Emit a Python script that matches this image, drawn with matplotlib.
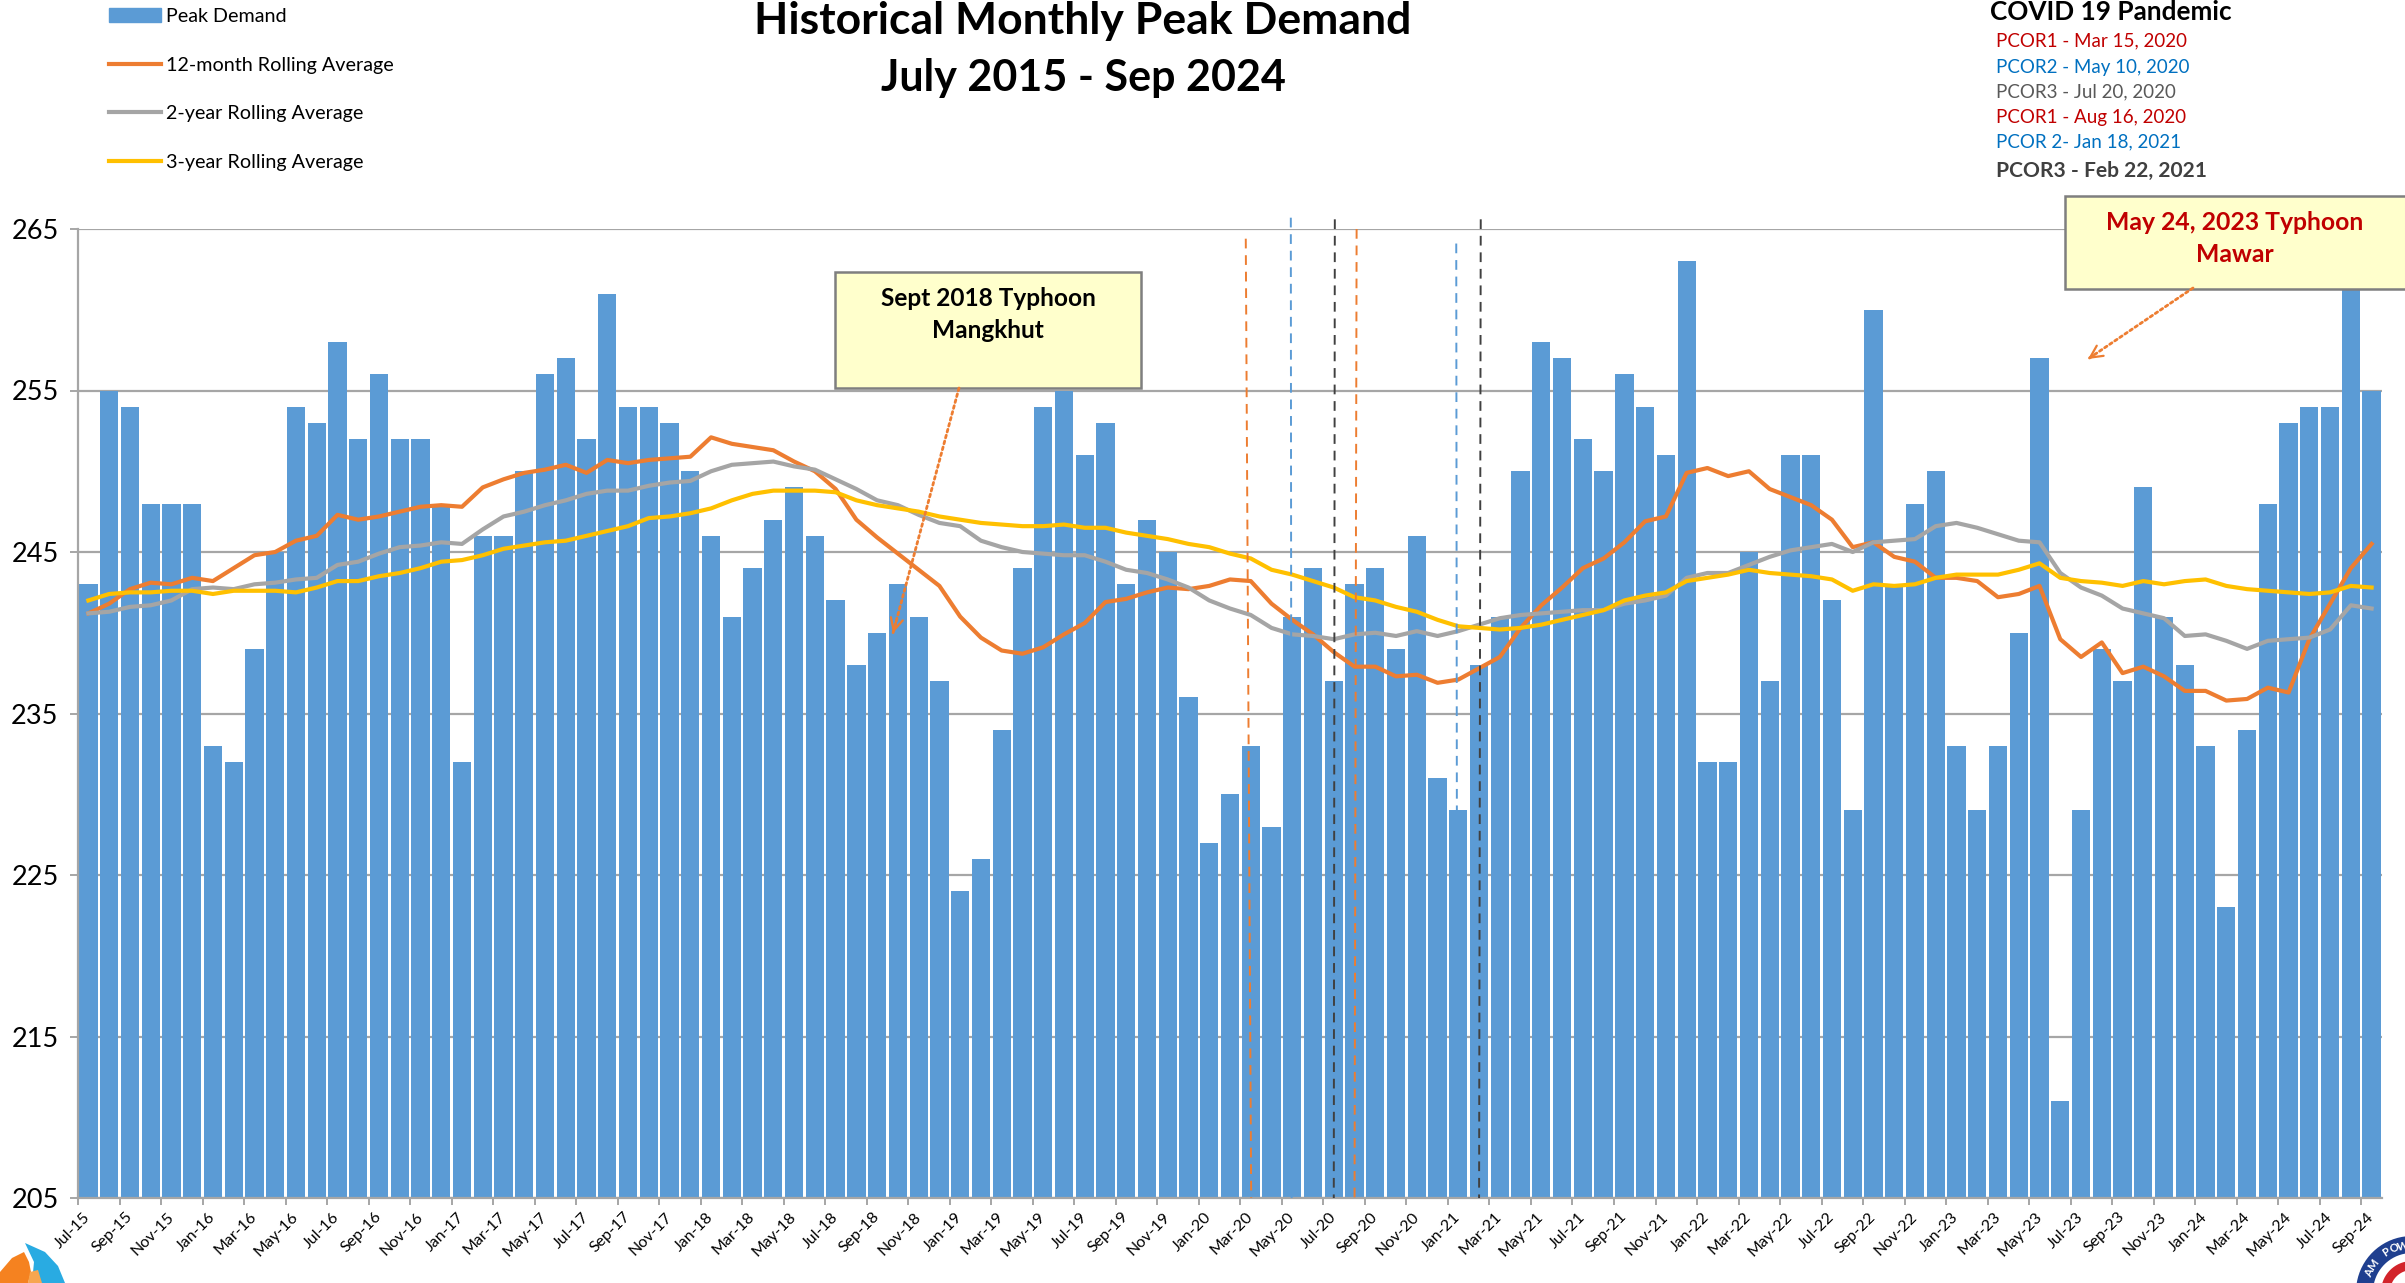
import numpy as np
import matplotlib
matplotlib.use("Agg")
import matplotlib.pyplot as plt
from matplotlib.patches import Rectangle, Polygon, FancyArrowPatch, Patch
from matplotlib.lines import Line2D

W, H = 2405, 1283
plt.rcParams['font.family'] = ['Lato', 'DejaVu Sans']

# data
years = [15, 16, 17, 18, 19, 20, 21, 22, 23, 24]
mon = ['Jan', 'Feb', 'Mar', 'Apr', 'May', 'Jun', 'Jul', 'Aug', 'Sep', 'Oct', 'Nov', 'Dec']
months = [m + '-' + str(y) for y in years for m in mon][6:-3]

peak = [243, 255, 254, 248, 248, 248,
        233, 232, 239, 245, 254, 253, 258, 252, 256, 252, 252, 248,
        232, 246, 246, 250, 256, 257, 252, 261, 254, 254, 253, 250,
        246, 241, 244, 247, 249, 246, 242, 238, 240, 243, 241, 237,
        224, 226, 234, 244, 254, 255, 251, 253, 243, 247, 245, 236,
        227, 230, 233, 228, 241, 244, 237, 243, 244, 239, 246, 231,
        229, 238, 241, 250, 258, 257, 252, 250, 256, 254, 251, 263,
        232, 232, 245, 237, 251, 251, 242, 229, 260, 243, 248, 250,
        233, 229, 233, 240, 257, 211, 229, 239, 237, 249, 241, 238,
        233, 223, 234, 248, 253, 254, 254, 263, 255]

avg_12m = [241.2, 241.8, 242.7, 243.1, 243.0, 243.4, 243.2, 244.0, 244.8, 245.0,
           245.7, 246.0, 247.3, 247.0, 247.2, 247.5, 247.8, 247.9, 247.8, 249.0,
           249.5, 249.9, 250.1, 250.4, 249.9, 250.7, 250.5, 250.7, 250.8, 250.9,
           252.1, 251.7, 251.5, 251.3, 250.6, 250.0, 248.9, 247.0, 245.9, 244.9,
           243.9, 242.9, 241.0, 239.7, 238.9, 238.7, 239.1, 239.9, 240.6, 241.9,
           242.1, 242.5, 242.8, 242.7, 242.9, 243.3, 243.2, 241.8, 240.8, 239.9,
           238.8, 237.9, 237.9, 237.3, 237.4, 236.9, 237.1, 237.8, 238.5, 240.3,
           241.7, 242.8, 244.0, 244.6, 245.6, 246.9, 247.2, 249.9, 250.2, 249.7,
           250.0, 248.9, 248.4, 247.9, 247.0, 245.3, 245.6, 244.7, 244.4, 243.4,
           243.4, 243.2, 242.2, 242.4, 242.9, 239.6, 238.5, 239.4, 237.5, 237.9,
           237.3, 236.4, 236.4, 235.8, 235.9, 236.6, 236.3, 239.6, 241.8, 244.0, 245.5]

avg_2y = [241.2, 241.3, 241.6, 241.7, 242.0, 242.7, 242.8, 242.7, 243.0, 243.1,
          243.3, 243.4, 244.2, 244.4, 244.9, 245.3, 245.4, 245.6, 245.5, 246.4,
          247.2, 247.5, 247.9, 248.2, 248.6, 248.8, 248.8, 249.1, 249.3, 249.4,
          250.0, 250.4, 250.5, 250.6, 250.3, 250.1, 249.5, 248.9, 248.2, 247.9,
          247.3, 246.8, 246.6, 245.7, 245.3, 245.0, 244.9, 244.8, 244.8, 244.4,
          243.9, 243.7, 243.3, 242.8, 242.0, 241.5, 241.1, 240.3, 239.9, 239.8,
          239.6, 239.9, 240.0, 239.8, 240.1, 239.8, 240.1, 240.5, 240.9, 241.1,
          241.2, 241.3, 241.4, 241.4, 241.8, 242.0, 242.3, 243.4, 243.7, 243.7,
          244.2, 244.7, 245.1, 245.3, 245.5, 245.0, 245.6, 245.7, 245.8, 246.6,
          246.8, 246.5, 246.1, 245.7, 245.6, 243.7, 242.8, 242.3, 241.5, 241.2,
          240.9, 239.8, 239.9, 239.5, 239.0, 239.5, 239.6, 239.7, 240.2, 241.7, 241.5]

avg_3y = [242.0, 242.4, 242.5, 242.5, 242.6, 242.6, 242.4, 242.6, 242.6, 242.6,
          242.5, 242.8, 243.2, 243.2, 243.5, 243.7, 244.0, 244.4, 244.5, 244.8,
          245.2, 245.4, 245.6, 245.7, 246.0, 246.3, 246.6, 247.1, 247.2, 247.4,
          247.7, 248.2, 248.6, 248.8, 248.8, 248.8, 248.7, 248.2, 247.9, 247.7,
          247.5, 247.2, 247.0, 246.8, 246.7, 246.6, 246.6, 246.7, 246.5, 246.5,
          246.2, 246.0, 245.8, 245.5, 245.3, 244.9, 244.6, 243.9, 243.6, 243.2,
          242.8, 242.2, 242.0, 241.6, 241.3, 240.8, 240.4, 240.3, 240.2, 240.3,
          240.5, 240.8, 241.1, 241.4, 242.0, 242.3, 242.5, 243.2, 243.4, 243.6,
          243.9, 243.7, 243.6, 243.5, 243.3, 242.6, 243.0, 242.9, 243.0, 243.4,
          243.6, 243.6, 243.6, 243.9, 244.3, 243.4, 243.2, 243.1, 242.9, 243.2,
          243.0, 243.2, 243.3, 242.9, 242.7, 242.6, 242.5, 242.4, 242.5, 242.9, 242.8]

# pandemic dates: month position at top and at bottom of the line, top value, colour
event_top_x = [55.76, 57.93, 60.05, 61.1, 65.9, 67.08]
event_bot_x = [56.02, 57.97, 60.0, 61.0, 65.95, 67.0]
event_top = [264.4, 265.7, 265.6, 265.0, 264.1, 265.6]
event_col = ['#ED7D31', '#5B9BD5', '#404040', '#ED7D31', '#5B9BD5', '#404040']

yticks = [205, 215, 225, 235, 245, 255, 265]

covid_lines = ['PCOR1 - Mar 15, 2020', 'PCOR2 - May 10, 2020', 'PCOR3 - Jul 20, 2020',
               'PCOR1 - Aug 16, 2020', 'PCOR 2- Jan 18, 2021', 'PCOR3 - Feb 22, 2021']
covid_cols = ['#C00000', '#0070C0', '#595959', '#C00000', '#0070C0', '#404040']
covid_ys = [41, 67, 92, 118, 142, 171]


def fx(x):
    return x / W


def fy(y):
    return 1 - y / H


fig = plt.figure(figsize=(W / 100, H / 100), dpi=100)
ax = fig.add_axes([fx(78), fy(1198), (2382 - 78) / W, (1198 - 229) / H])

x = np.arange(len(months))
ax.bar(x, peak, width=0.88, color='#5B9BD5', zorder=2)
ax.plot(x, avg_12m, color='#ED7D31', lw=3, zorder=3, solid_joinstyle='round')
ax.plot(x, avg_2y, color='#A5A5A5', lw=3, zorder=3, solid_joinstyle='round')
ax.plot(x, avg_3y, color='#FFC000', lw=3, zorder=4, solid_joinstyle='round')

for tx, bx, t, c in zip(event_top_x, event_bot_x, event_top, event_col):
    ax.plot([tx, bx], [t, 205], color=c, lw=1.4, dashes=(5, 3.5), zorder=5, clip_on=False)

ax.set_xlim(-0.5, len(months) - 0.5)
ax.set_ylim(205, 265)
ax.set_yticks(yticks)
ax.tick_params(axis='y', labelsize=19.5, length=6, width=1.4, color='#A6A6A6', pad=8)
ax.yaxis.grid(True, color='#A6A6A6', lw=1.6, zorder=0)
ax.set_axisbelow(True)

ax.set_xticks(x[::2])
ax.set_xticklabels(months[::2], rotation=45, ha='right', va='center', rotation_mode='anchor', fontsize=11.5)
ax.tick_params(axis='x', which='major', length=0, pad=12)
ax.set_xticks(x[::2] - 0.5, minor=True)
ax.tick_params(axis='x', which='minor', length=5, width=1.4, color='#A6A6A6')

for s in ['top', 'right']:
    ax.spines[s].set_visible(False)
for s in ['left', 'bottom']:
    ax.spines[s].set_color('#A6A6A6')
    ax.spines[s].set_linewidth(1.6)

# legend up in the top left corner, out of the axes
handles = [Patch(color='#5B9BD5'),
           Line2D([0], [0], color='#ED7D31', lw=3),
           Line2D([0], [0], color='#A5A5A5', lw=3),
           Line2D([0], [0], color='#FFC000', lw=3)]
labels = ['Peak Demand', '12-month Rolling Average', '2-year Rolling Average', '3-year Rolling Average']
fig.legend(handles, labels, loc='upper left', bbox_to_anchor=(fx(109), fy(8)), frameon=False,
           fontsize=14.2, labelspacing=1.6, handlelength=2.64, handletextpad=0.25, handleheight=0.65,
           borderpad=0, borderaxespad=0)

fig.text(fx(1083), fy(21), 'Historical Monthly Peak Demand', ha='center', va='center', fontsize=32, fontweight='bold')
fig.text(fx(1083), fy(78), 'July 2015 - Sep 2024', ha='center', va='center', fontsize=31, fontweight='bold')

fig.text(fx(1990), fy(12), 'COVID 19 Pandemic', ha='left', va='center', fontsize=18.8, fontweight='bold')
for i in range(len(covid_lines)):
    fig.text(fx(1996), fy(covid_ys[i]), covid_lines[i], color=covid_cols[i], ha='left', va='center',
             fontsize=15.1 if i == 5 else 13.5, fontweight='bold' if i == 5 else 'normal')

# callout boxes
fig.add_artist(Rectangle((fx(835), fy(388)), 306 / W, 116 / H, transform=fig.transFigure, facecolor='#FFFFCC',
                         edgecolor='#7F7F7F', lw=1.8, zorder=6))
fig.text(fx(988), fy(299), 'Sept 2018 Typhoon', ha='center', va='center', fontsize=17.6, fontweight='bold', zorder=7)
fig.text(fx(988), fy(331), 'Mangkhut', ha='center', va='center', fontsize=17.6, fontweight='bold', zorder=7)

fig.add_artist(Rectangle((fx(2065), fy(289)), 345 / W, 93 / H, transform=fig.transFigure, facecolor='#FFFFCC',
                         edgecolor='#7F7F7F', lw=1.8, zorder=6))
fig.text(fx(2235), fy(223), 'May 24, 2023 Typhoon', color='#C00000', ha='center', va='center', fontsize=17.8, fontweight='bold', zorder=7)
fig.text(fx(2235), fy(255), 'Mawar', color='#C00000', ha='center', va='center', fontsize=17.8, fontweight='bold', zorder=7)


def dotted_arrow(x0, y0, x1, y1):
    fig.add_artist(FancyArrowPatch((fx(x0), fy(y0)), (fx(x1), fy(y1)), transform=fig.transFigure, arrowstyle='-',
                                   linestyle=(0, (1, 1.2)), color='#ED7D31', lw=2, shrinkA=0, shrinkB=0, zorder=6))
    fig.add_artist(FancyArrowPatch((fx(x0 + (x1 - x0) * 0.95), fy(y0 + (y1 - y0) * 0.95)), (fx(x1), fy(y1)),
                                   transform=fig.transFigure, arrowstyle='->', mutation_scale=22,
                                   color='#ED7D31', lw=1.6, shrinkA=0, shrinkB=0, zorder=6))


dotted_arrow(959, 388, 893, 633)
dotted_arrow(2193, 288, 2088, 359)

# company logos in the bottom corners
fig.add_artist(Polygon([(fx(a), fy(b)) for a, b in [(25, 1243), (45, 1252), (58, 1266), (65, 1283), (32, 1283), (34, 1262)]],
                       transform=fig.transFigure, facecolor='#29ABE2', edgecolor='none', zorder=1))
fig.add_artist(Polygon([(fx(a), fy(b)) for a, b in [(0, 1283), (0, 1272), (12, 1258), (24, 1252), (29, 1262), (31, 1272), (28, 1283)]],
                       transform=fig.transFigure, facecolor='#F58220', edgecolor='none', zorder=1))
fig.add_artist(Polygon([(fx(a), fy(b)) for a, b in [(28, 1283), (30, 1272), (38, 1270), (42, 1283)]],
                       transform=fig.transFigure, facecolor='#F7A650', edgecolor='none', zorder=1))

cx, cy, r = 2412, 1292, 56
fig.add_artist(Polygon([(fx(cx + r * np.cos(t)), fy(cy - r * np.sin(t))) for t in np.linspace(0, 2 * np.pi, 80)],
                       transform=fig.transFigure, facecolor='#1F3F8F', edgecolor='none', zorder=1))
fig.add_artist(Polygon([(fx(cx + 39 * np.cos(t)), fy(cy - 39 * np.sin(t))) for t in np.linspace(0, 2 * np.pi, 80)],
                       transform=fig.transFigure, facecolor='white', edgecolor='none', zorder=1))
fig.add_artist(Polygon([(fx(cx + rr * np.cos(t)), fy(cy - rr * np.sin(t))) for rr, ts in [(31, np.linspace(1.4, 3.1, 20)), (22, np.linspace(3.1, 1.4, 20))] for t in ts],
                       transform=fig.transFigure, facecolor='#D2232A', edgecolor='none', zorder=1))
seal = 'AM POW'
for i in range(len(seal)):
    ang = 2.72 - i * 0.19
    fig.text(fx(cx + 47 * np.cos(ang)), fy(cy - 47 * np.sin(ang)), seal[i], color='white', fontsize=8, fontweight='bold',
             ha='center', va='center', rotation=np.degrees(ang) - 90, zorder=2)

fig.savefig('out.png', dpi=100)
